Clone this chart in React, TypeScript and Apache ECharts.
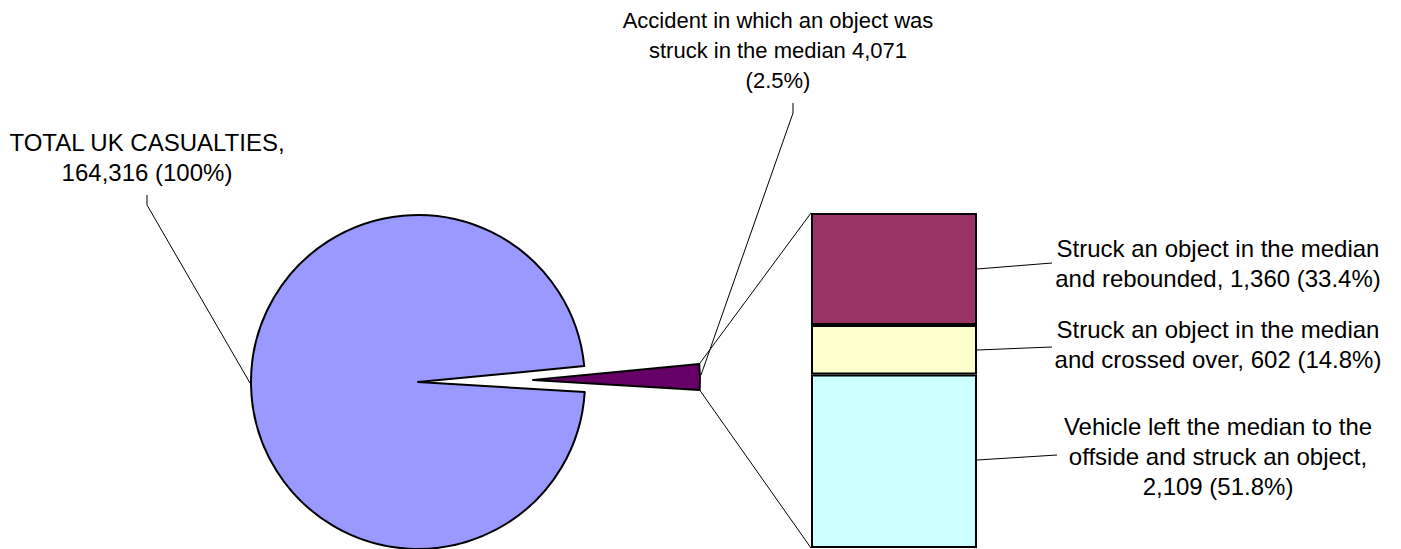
import React, { useEffect, useRef } from "react";
import * as echarts from "echarts";

// ---- data ----
const totalCasualties = 164316;
const medianStruckValue = 4071;
const pieNames = ["Accident in which an object was\nstruck in the median", "TOTAL UK CASUALTIES"];
const barNames = [
  "Vehicle left the median to the\noffside and struck an object,\n",
  "Struck an object in the median\nand crossed over, ",
  "Struck an object in the median\nand rebounded, ",
];
const barValues = [2109, 602, 1360];
const barColors = ["#CCFFFF", "#FFFFCC", "#993366"];

// ---- layout ----
const PIE_CX = 418;
const PIE_CY = 382;
const PIE_R = 167;
const EXPLODE = 115;
const TILT = 1; // degrees
const BAR_LEFT = 811;
const BAR_TOP = 213;
const BAR_W = 166;
const BAR_H = 335;
const FONT = "'Liberation Sans', Arial, sans-serif";
const FS = 24;
const FS_TOP = 22;
const LH = 30;

const fmt = (v: number) => v.toLocaleString("en-US");
const pct = (v: number, t: number) => ((v / t) * 100).toFixed(1) + "%";

export default function App() {
  const ref = useRef<HTMLDivElement>(null);
  useEffect(() => {
    if (!ref.current) return;
    const chart = echarts.init(ref.current, undefined, { renderer: "svg" });
    const rest = totalCasualties - medianStruckValue;
    const smallAngle = (360 * medianStruckValue) / totalCasualties;
    const startAngle = smallAngle / 2 + TILT;

    // exploded slice corners
    const ecx = PIE_CX + EXPLODE * Math.cos((TILT * Math.PI) / 180);
    const ecy = PIE_CY - EXPLODE * Math.sin((TILT * Math.PI) / 180);
    const a1 = (startAngle * Math.PI) / 180;
    const a2 = ((startAngle - smallAngle) * Math.PI) / 180;
    const c1 = [ecx + PIE_R * Math.cos(a1), ecy - PIE_R * Math.sin(a1)];
    const c2 = [ecx + PIE_R * Math.cos(a2), ecy - PIE_R * Math.sin(a2)];

    const barTotal = barValues.reduce((a, b) => a + b, 0);
    const textEl = (text: string, x: number, y: number, fs: number) => ({
      type: "text",
      x,
      y,
      silent: true,
      style: {
        text,
        fontFamily: FONT,
        fontSize: fs,
        lineHeight: LH,
        fill: "#000",
        align: "center",
        verticalAlign: "middle",
      },
    });
    const lineStyle = { stroke: "#000", lineWidth: 1 };

    chart.setOption({
      animation: false,
      backgroundColor: "#fff",
      grid: { left: BAR_LEFT, top: BAR_TOP, width: BAR_W, height: BAR_H },
      xAxis: { type: "category", data: ["median"], show: false },
      yAxis: { type: "value", min: 0, max: barTotal, show: false, splitLine: { show: false } },
      series: [
        {
          type: "pie",
          center: [PIE_CX, PIE_CY],
          radius: PIE_R,
          startAngle,
          clockwise: true,
          selectedMode: "single",
          selectedOffset: EXPLODE,
          label: { show: false },
          labelLine: { show: false },
          emphasis: { disabled: true },
          itemStyle: { borderColor: "#000", borderWidth: 2 },
          data: [
            { name: pieNames[0], value: medianStruckValue, selected: true, itemStyle: { color: "#660066" }, select: { itemStyle: { color: "#660066", borderColor: "#000", borderWidth: 2 } } },
            { name: pieNames[1], value: rest, itemStyle: { color: "#9999FF" } },
          ],
        },
        ...barValues.map((v, i) => ({
          type: "bar",
          stack: "median",
          barWidth: "100%",
          name: barNames[i],
          data: [v],
          emphasis: { disabled: true },
          itemStyle: { color: barColors[i], borderColor: "#000", borderWidth: 2 },
          label: {
            show: true,
            position: [BAR_W + 241, "50%"],
            offset: [0, -5],
            align: "center",
            verticalAlign: "middle",
            fontFamily: FONT,
            fontSize: FS,
            lineHeight: LH,
            color: "#000",
            formatter: () => `${barNames[i]}${fmt(v)} (${pct(v, barTotal)})`,
          },
        })),
      ],
      graphic: [
        { type: "line", silent: true, shape: { x1: c1[0], y1: c1[1], x2: BAR_LEFT, y2: BAR_TOP }, style: lineStyle },
        { type: "line", silent: true, shape: { x1: c2[0], y1: c2[1], x2: BAR_LEFT, y2: BAR_TOP + BAR_H }, style: lineStyle },
        { type: "polyline", silent: true, shape: { points: [[147, 195], [147, 205], [250, 383]] }, style: { ...lineStyle, fill: "none" } },
        { type: "polyline", silent: true, shape: { points: [[793, 103], [793, 113], [701, 375]] }, style: { ...lineStyle, fill: "none" } },
        { type: "line", silent: true, shape: { x1: BAR_LEFT + BAR_W, y1: 269, x2: 1052, y2: 263 }, style: lineStyle },
        { type: "line", silent: true, shape: { x1: BAR_LEFT + BAR_W, y1: 350, x2: 1052, y2: 347 }, style: lineStyle },
        { type: "line", silent: true, shape: { x1: BAR_LEFT + BAR_W, y1: 460, x2: 1057, y2: 455 }, style: lineStyle },
        textEl(`${pieNames[1]},\n${fmt(totalCasualties)} (100%)`, 147, 157, FS),
        textEl(`${pieNames[0]} ${fmt(medianStruckValue)}\n(${pct(medianStruckValue, totalCasualties)})`, 778, 50, FS_TOP),
      ],
    });
    return () => chart.dispose();
  }, []);
  return <div ref={ref} style={{ position: "fixed", left: 0, top: 0, width: 1401, height: 549 }} />;
}
